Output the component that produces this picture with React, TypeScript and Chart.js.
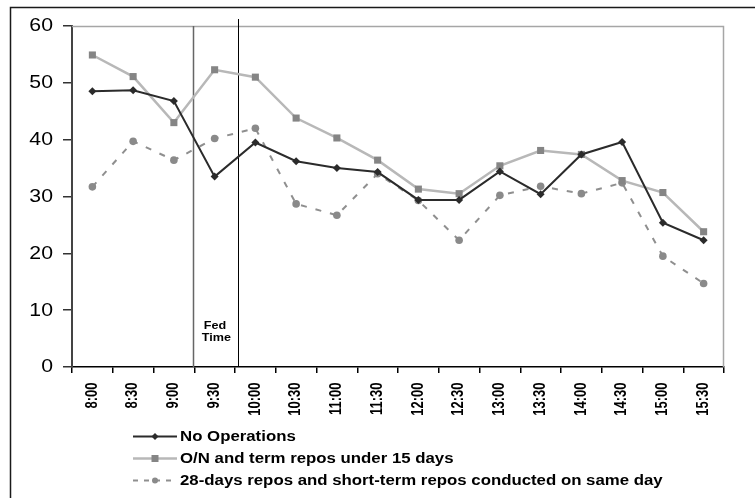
import React, { useEffect, useRef } from "react";
import { Chart, registerables } from "chart.js";

Chart.register(...registerables);

const categories = ["8:00", "8:30", "9:00", "9:30", "10:00", "10:30", "11:00", "11:30", "12:00", "12:30", "13:00", "13:30", "14:00", "14:30", "15:00", "15:30"];
const noOperations = [48.5, 48.7, 46.8, 33.5, 39.5, 36.2, 35.0, 34.3, 29.4, 29.4, 34.4, 30.4, 37.4, 39.6, 25.4, 22.3];
const onTermRepos = [54.9, 51.1, 43.0, 52.3, 51.0, 43.8, 40.3, 36.4, 31.3, 30.5, 35.4, 38.1, 37.4, 32.8, 30.7, 23.8];
const days28Repos = [31.7, 39.7, 36.4, 40.2, 42.0, 28.7, 26.7, 34.0, 29.3, 22.3, 30.2, 31.8, 30.5, 32.4, 19.5, 14.7];
const seriesLabels = [
  "No Operations",
  "O/N and term repos under 15 days",
  "28-days repos and short-term repos conducted on same day",
];
const yMin = 0;
const yMax = 60;
const yStep = 10;
const fedTimeBounds = [2.46, 3.58];
const fedTimeLabel = ["Fed", "Time"];

const FONT = "'Liberation Sans', Arial, Helvetica, sans-serif";

function drawMarker(ctx: CanvasRenderingContext2D, style: string, x: number, y: number, r: number, color: string) {
  ctx.save();
  ctx.fillStyle = color;
  ctx.beginPath();
  if (style === "rectRot") {
    ctx.moveTo(x, y - r);
    ctx.lineTo(x + r, y);
    ctx.lineTo(x, y + r);
    ctx.lineTo(x - r, y);
    ctx.closePath();
  } else if (style === "rect") {
    ctx.rect(x - r, y - r, 2 * r, 2 * r);
  } else {
    ctx.arc(x, y, r, 0, Math.PI * 2);
  }
  ctx.fill();
  ctx.restore();
}

function stretchedText(ctx: CanvasRenderingContext2D, text: string, x: number, y: number, sx: number, sy: number) {
  ctx.save();
  ctx.translate(x, y);
  ctx.scale(sx, sy);
  ctx.fillText(text, 0, 0);
  ctx.restore();
}

const decorPlugin = {
  id: "decor",
  beforeDatasetsDraw(chart: any) {
    const { ctx, chartArea } = chart;
    const xs = chart.scales.x;
    ctx.save();
    // plot frame (top and right, gray)
    ctx.strokeStyle = "#a6a6a6";
    ctx.lineWidth = 1.5;
    ctx.beginPath();
    ctx.moveTo(chartArea.left, chartArea.top + 0.5);
    ctx.lineTo(chartArea.right - 0.5, chartArea.top + 0.5);
    ctx.lineTo(chartArea.right - 0.5, chartArea.bottom);
    ctx.stroke();
    // Fed time lines
    const x1 = Math.round(xs.getPixelForValue(fedTimeBounds[0])) + 0.5;
    const x2 = Math.round(xs.getPixelForValue(fedTimeBounds[1])) + 0.5;
    ctx.strokeStyle = "#666";
    ctx.lineWidth = 1.5;
    ctx.beginPath();
    ctx.moveTo(x1, chartArea.top);
    ctx.lineTo(x1, chartArea.bottom);
    ctx.stroke();
    ctx.strokeStyle = "#000";
    ctx.lineWidth = 1;
    ctx.beginPath();
    ctx.moveTo(x2, chartArea.top - 7);
    ctx.lineTo(x2, chartArea.bottom);
    ctx.stroke();
    // Fed time label
    ctx.fillStyle = "#000";
    ctx.font = `bold 10.5px ${FONT}`;
    ctx.textAlign = "center";
    ctx.textBaseline = "middle";
    const cx = (xs.getPixelForValue(fedTimeBounds[0]) + xs.getPixelForValue(fedTimeBounds[1])) / 2;
    stretchedText(ctx, fedTimeLabel[0], cx - 0.5, chartArea.bottom - 41, 1.2, 1);
    stretchedText(ctx, fedTimeLabel[1], cx + 1, chartArea.bottom - 29, 1.2, 1);
    ctx.restore();
  },
  afterDraw(chart: any) {
    const { ctx, chartArea } = chart;
    const xs = chart.scales.x;
    const ys = chart.scales.y;
    ctx.save();
    // outer frame
    ctx.strokeStyle = "#1a1a1a";
    ctx.lineWidth = 1.5;
    ctx.strokeRect(10.5, 7.5, 900, 700);

    // y tick labels
    ctx.fillStyle = "#000";
    ctx.font = `18px ${FONT}`;
    ctx.textAlign = "right";
    ctx.textBaseline = "middle";
    ys.ticks.forEach((t: any) => {
      const y = ys.getPixelForValue(t.value);
      stretchedText(ctx, String(t.value), chartArea.left - 19, y + 0.5, 1.18, 1);
    });

    // x tick labels (rotated)
    ctx.font = `bold 13px ${FONT}`;
    ctx.textAlign = "right";
    ctx.textBaseline = "middle";
    categories.forEach((c, i) => {
      const x = xs.getPixelForValue(i);
      ctx.save();
      ctx.translate(x, chartArea.bottom + 15.5);
      ctx.rotate(-Math.PI / 2);
      ctx.scale(1, 1.2);
      ctx.fillText(c, 0, 0);
      ctx.restore();
    });

    // legend
    const rows = [436.5, 458.5, 480.5];
    const lx0 = 133;
    const lx1 = 177;
    chart.data.datasets.forEach((ds: any, i: number) => {
      const y = rows[i];
      ctx.save();
      ctx.strokeStyle = ds.borderColor;
      ctx.lineWidth = ds.borderWidth;
      ctx.setLineDash(ds.legendDash || []);
      ctx.beginPath();
      ctx.moveTo(lx0, y);
      ctx.lineTo(lx1, y);
      ctx.stroke();
      ctx.restore();
      drawMarker(ctx, ds.pointStyle, (lx0 + lx1) / 2, y, ds.legendMarker, ds.pointBackgroundColor);
      ctx.fillStyle = "#000";
      ctx.font = `bold 14px ${FONT}`;
      ctx.textAlign = "left";
      ctx.textBaseline = "middle";
      stretchedText(ctx, ds.label, lx1 + 3, y + 0.5, 1.2, 1);
    });
    ctx.restore();
  },
};

export default function App() {
  const ref = useRef<HTMLCanvasElement | null>(null);
  useEffect(() => {
    if (!ref.current) return;
    const chart = new Chart(ref.current, {
      type: "line",
      data: {
        labels: categories,
        datasets: [
          {
            label: seriesLabels[0],
            data: noOperations,
            borderColor: "#2b2b2b",
            borderWidth: 2,
            pointStyle: "rectRot",
            pointRadius: 4,
            pointBackgroundColor: "#2b2b2b",
            pointBorderWidth: 0,
            legendMarker: 3.5,
            tension: 0,
            order: 0,
          } as any,
          {
            label: seriesLabels[1],
            data: onTermRepos,
            borderColor: "#b8b8b8",
            borderWidth: 2.5,
            pointStyle: "rect",
            pointRadius: 5,
            pointBackgroundColor: "#858585",
            pointBorderWidth: 0,
            legendMarker: 3.5,
            tension: 0,
            order: 1,
          } as any,
          {
            label: seriesLabels[2],
            data: days28Repos,
            borderColor: "#8f8f8f",
            borderWidth: 2,
            borderDash: [6, 9],
            legendDash: [5, 6],
            pointStyle: "circle",
            pointRadius: 3.8,
            pointBackgroundColor: "#8a8a8a",
            pointBorderWidth: 0,
            legendMarker: 3,
            tension: 0,
            order: 2,
          } as any,
        ],
      },
      options: {
        animation: false,
        responsive: false,
        layout: { padding: { left: 0, right: 31, top: 26, bottom: 0 } },
        plugins: {
          legend: { display: false },
          tooltip: { enabled: false },
        },
        scales: {
          x: {
            offset: true,
            grid: {
              offset: true,
              drawOnChartArea: false,
              drawTicks: true,
              tickLength: 6,
              color: "#000",
              lineWidth: 1.5,
            },
            border: { display: true, color: "#000", width: 1.5 },
            ticks: {
              display: false,
              autoSkip: false,
            },
            afterFit(scale: any) {
              scale.height = 131;
            },
          },
          y: {
            min: yMin,
            max: yMax,
            grid: {
              drawOnChartArea: false,
              drawTicks: true,
              tickLength: 9,
              color: "#333",
              lineWidth: 1.5,
            },
            border: { display: true, color: "#444", width: 2 },
            ticks: {
              display: false,
              stepSize: yStep,
            },
            afterFit(scale: any) {
              scale.width = 72;
            },
          },
        },
      },
      plugins: [decorPlugin],
    } as any);
    return () => chart.destroy();
  }, []);
  return (
    <div style={{ position: "absolute", left: 0, top: 0, width: 755, height: 498, background: "#fff" }}>
      <canvas ref={ref} width={755} height={498} style={{ display: "block" }} />
    </div>
  );
}
